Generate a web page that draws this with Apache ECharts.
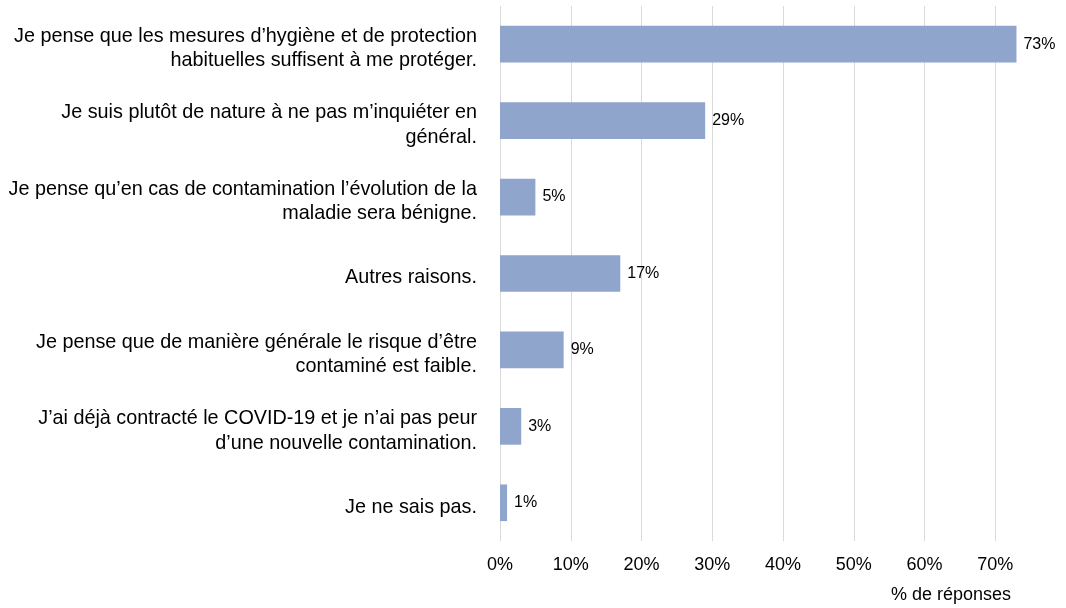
<!DOCTYPE html>
<html>
<head>
<meta charset="utf-8">
<script src="https://cdn.jsdelivr.net/npm/echarts@6/dist/echarts.min.js"></script>
<style>
  html, body { margin: 0; padding: 0; background: #ffffff; }
  #chart { width: 1066px; height: 608px; }
</style>
</head>
<body>
<div id="chart"></div>
<script>
// Reasons given (top to bottom) and share of answers, in %
const categories = [
  "Je pense que les mesures d\u2019hygi\u00e8ne et de protection\nhabituelles suffisent \u00e0 me prot\u00e9ger.",
  "Je suis plut\u00f4t de nature \u00e0 ne pas m\u2019inqui\u00e9ter en\ng\u00e9n\u00e9ral.",
  "Je pense qu\u2019en cas de contamination l\u2019\u00e9volution de la\nmaladie sera b\u00e9nigne.",
  "Autres raisons.",
  "Je pense que de mani\u00e8re g\u00e9n\u00e9rale le risque d\u2019\u00eatre\ncontamin\u00e9 est faible.",
  "J\u2019ai d\u00e9j\u00e0 contract\u00e9 le COVID-19 et je n\u2019ai pas peur\nd\u2019une nouvelle contamination.",
  "Je ne sais pas."
];
const shares = [73, 29, 5, 17, 9, 3, 1];
const axisTitle = "% de r\u00e9ponses";

const FONT = "'Liberation Sans', Arial, sans-serif";

// Each label line is a rich token with a small top padding, which nudges
// the text a few pixels below the bar's centre line.
function categoryLabel(value) {
  return value.split('\n').map(line => '{cat|' + line + '}').join('\n');
}

const chart = echarts.init(document.getElementById('chart'));
chart.setOption({
  animation: false,
  backgroundColor: '#ffffff',
  grid: { left: 500, top: 6, width: 570, height: 535, containLabel: false },
  xAxis: {
    type: 'value',
    min: 0,
    max: 80,
    interval: 10,
    axisLine: { show: false },
    axisTick: { show: false },
    splitLine: { show: true, lineStyle: { color: '#d9d9d9', width: 1 } },
    axisLabel: {
      margin: 15,
      fontFamily: FONT,
      fontSize: 18,
      color: '#000000',
      showMaxLabel: false,
      formatter: v => v + '%'
    }
  },
  yAxis: {
    type: 'category',
    inverse: true,
    data: categories,
    axisLine: { show: false },
    axisTick: { show: false },
    splitLine: { show: false },
    axisLabel: {
      margin: 23,
      align: 'right',
      formatter: categoryLabel,
      rich: {
        cat: {
          fontFamily: FONT, fontSize: 19.8, lineHeight: 24.5, color: '#000000',
          padding: [9, 0, 0, 0]
        }
      }
    }
  },
  series: [{
    type: 'bar',
    data: shares,
    barWidth: '48%',
    itemStyle: { color: '#8fa5cc' },
    label: {
      show: true,
      position: 'right',
      distance: 7,
      fontFamily: FONT,
      fontSize: 16,
      color: '#000000',
      formatter: p => p.value + '%'
    }
  }],
  graphic: [{
    type: 'text',
    right: 55,
    top: 586,
    style: { text: axisTitle, font: '18px ' + FONT, fill: '#000000' }
  }]
});
</script>
</body>
</html>
